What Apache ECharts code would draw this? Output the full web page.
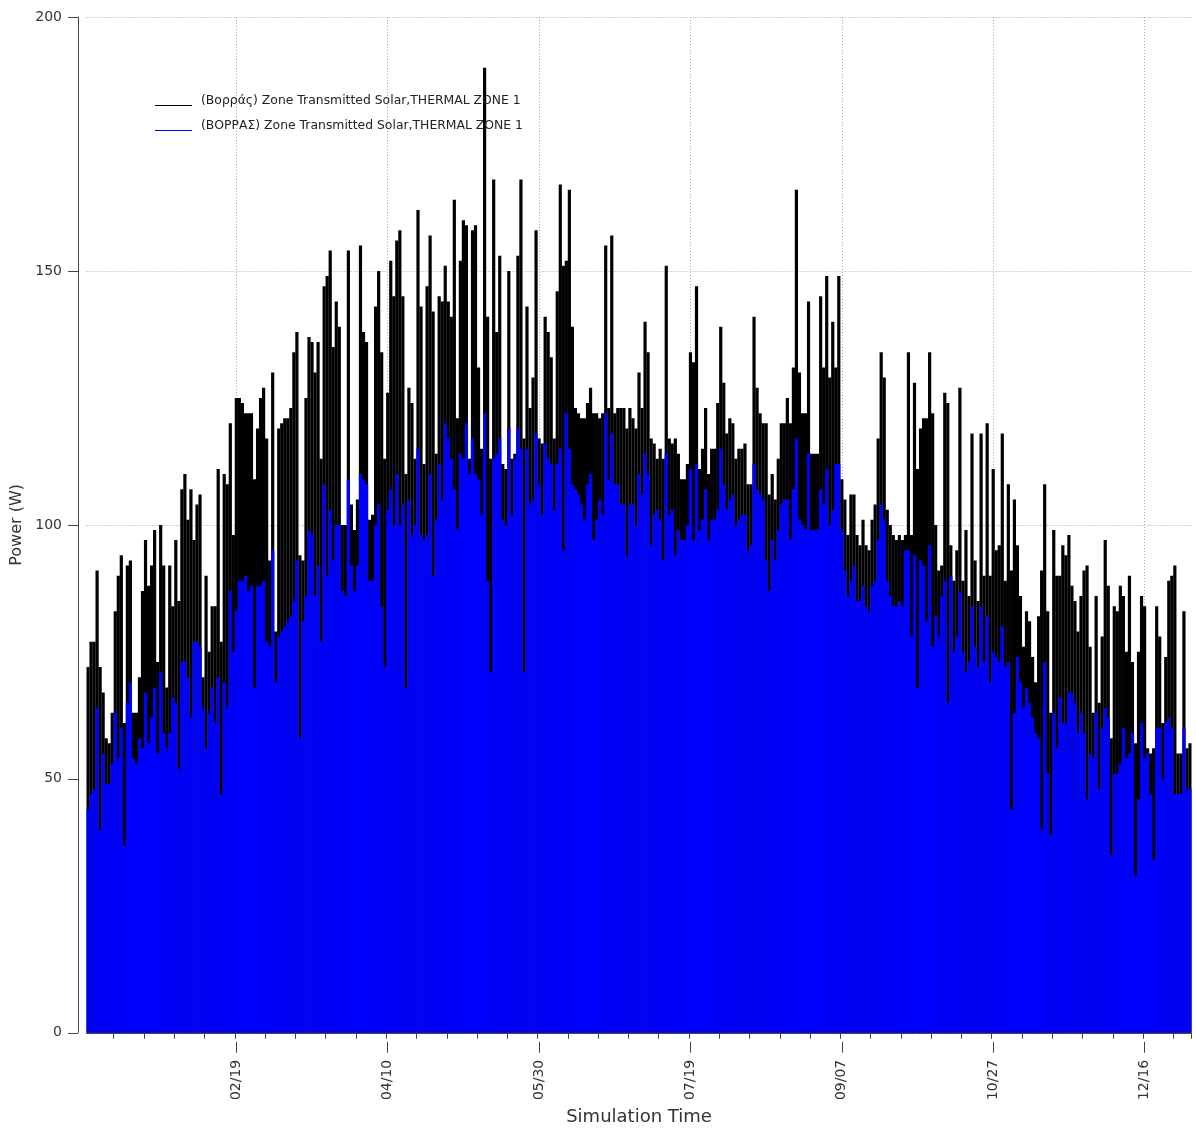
<!DOCTYPE html>
<html>
<head>
<meta charset="utf-8">
<script src="https://cdn.jsdelivr.net/npm/echarts@6/dist/echarts.min.js"></script>
<style>
html,body{margin:0;padding:0;background:#fff;overflow:hidden;width:1196px;height:1131px;}
#chart{position:absolute;left:0;top:0;width:1196px;height:1131px;}
</style>
</head>
<body>
<div id="chart"></div>
<script>
// Daily peak values (W), Jan 1 .. Dec 31
const seriesNames = [
  '(Βορράς) Zone Transmitted Solar,THERMAL ZONE 1',
  '(ΒΟΡΡΑΣ) Zone Transmitted Solar,THERMAL ZONE 1'
];
const seriesColors = ['#000000', '#0000ff'];
const vorrasValues = [
72,77,77,91,72,67,58,57,63,83,
90,94,61,92,93,63,63,70,87,97,
88,92,99,73,100,92,68,92,84,97,
85,107,110,101,107,97,104,106,70,90,
75,84,84,111,77,110,108,120,98,125,
125,124,122,122,122,109,119,125,127,117,
93,130,79,119,120,121,121,123,134,138,
94,93,125,137,136,130,136,113,147,149,
154,135,144,139,100,100,154,104,99,105,
155,138,136,101,102,143,150,134,113,126,
152,145,156,158,145,110,127,124,113,162,
143,112,147,157,142,114,145,144,151,144,
141,164,121,152,160,159,113,158,159,131,
115,190,141,113,168,138,153,112,111,150,
113,114,153,168,117,143,123,129,158,117,
116,141,138,133,117,146,167,151,152,166,
139,123,122,121,121,124,127,122,122,121,
122,155,123,157,122,123,123,123,119,123,
121,119,130,123,140,134,117,116,113,115,
113,151,117,116,117,114,109,109,112,134,
132,147,111,115,123,110,115,115,124,139,
128,118,121,120,113,115,115,116,108,108,
141,127,122,120,120,106,110,105,113,120,
120,125,120,131,166,130,122,122,144,114,
114,114,145,131,149,129,140,131,149,109,
105,98,106,106,98,96,101,96,95,101,
104,117,134,129,103,100,98,97,98,97,
98,134,98,128,111,119,121,121,134,122,
100,91,92,126,124,96,89,95,127,89,
99,86,118,93,85,118,90,120,90,111,
95,96,118,89,108,91,105,96,86,76,
83,81,74,69,82,91,108,83,63,99,
90,90,96,94,98,88,85,79,86,91,
92,76,63,86,65,78,97,88,58,84,
83,88,86,75,90,73,57,75,86,84,
56,55,56,84,78,61,74,89,90,92,
55,55,83,56,57
];
const VORRASValues = [
44,47,48,64,40,55,49,49,53,63,
54,60,37,65,69,54,53,58,56,67,
57,62,68,55,71,59,56,59,66,65,
52,73,73,70,62,77,77,76,64,56,
63,68,61,70,47,69,64,87,75,83,
89,89,90,87,88,68,88,88,89,77,
76,95,69,78,79,80,81,82,85,93,
58,81,86,99,98,86,92,77,108,90,
103,93,100,100,87,86,109,92,87,92,
110,109,108,89,89,100,104,84,72,103,
107,100,110,100,104,68,105,98,100,115,
98,97,98,110,90,101,112,105,120,117,
113,107,99,114,113,120,110,117,110,109,
102,122,89,71,113,114,117,101,100,119,
102,113,119,115,71,115,104,105,118,108,
102,116,113,112,103,112,115,95,122,115,
108,107,106,104,101,108,110,97,101,105,
102,122,109,118,108,108,104,104,94,104,
104,100,110,106,114,110,96,102,103,101,
93,114,102,103,94,99,97,97,100,111,
97,112,99,101,107,97,101,101,103,115,
108,103,105,106,100,101,102,102,95,96,
112,107,106,105,93,87,97,93,99,104,
105,105,97,107,117,101,100,99,114,99,
99,99,107,104,111,100,103,112,112,99,
91,86,89,92,85,85,88,84,83,88,
89,97,104,101,89,86,84,84,85,84,
95,95,78,94,68,93,92,81,96,76,
82,78,86,89,65,90,75,78,87,75,
71,73,84,76,72,84,73,82,69,75,
74,73,80,72,73,44,63,74,69,64,
68,65,62,59,58,40,73,51,39,63,
56,66,61,61,67,67,65,59,63,59,
46,55,54,63,48,60,64,62,35,51,
51,53,60,54,55,59,31,46,61,54,
55,47,34,60,60,50,61,62,60,47,
47,47,60,48,48
];
const tickLabels = ['02/19','04/10','05/30','07/19','09/07','10/27','12/16'];
const yTicks = [0, 50, 100, 150, 200];

// Day categories (MM/DD) for a non-leap year
function pad(n){ return (n < 10 ? '0' : '') + n; }
const categories = [];
for (let i = 0; i < vorrasValues.length; i++) {
  const d = new Date(Date.UTC(2013, 0, 1 + i));
  categories.push(pad(d.getUTCMonth() + 1) + '/' + pad(d.getUTCDate()));
}

const FONT = 'DejaVu Sans';
const chart = echarts.init(document.getElementById('chart'), null, {renderer: 'canvas', width: 1196, height: 1131});
const isMajor = (i, v) => tickLabels.indexOf(v) >= 0;
// legend icon: thin line drawn at the bottom of a 37x10 box
const legendIcon = 'path://M0,0L0.01,0L0.01,0.01L0,0.01Z M0,9L37,9L37,10L0,10Z';

chart.setOption({
  animation: false,
  backgroundColor: '#ffffff',
  textStyle: {fontFamily: FONT},
  grid: {left: 86.5, right: 4.5, top: 17, bottom: 90, containLabel: false},
  legend: {
    orient: 'vertical',
    left: 155,
    top: 95,
    padding: 0,
    itemWidth: 37,
    itemHeight: 10,
    itemGap: 13,
    icon: legendIcon,
    selectedMode: false,
    data: seriesNames.map((n, k) => ({name: n, itemStyle: {color: seriesColors[k], borderWidth: 0}})),
    textStyle: {fontFamily: FONT, fontSize: 12.4, color: '#222', padding: [0, 0, 0, 4]}
  },
  xAxis: [
    {
      type: 'category',
      data: categories,
      position: 'bottom',
      offset: 9,
      boundaryGap: true,
      axisLine: {show: true, lineStyle: {color: '#444', width: 1}},
      axisTick: {show: true, interval: (i) => i % 10 === 9, length: 6, lineStyle: {color: '#444'}},
      axisLabel: {show: false},
      splitLine: {show: false}
    },
    {
      type: 'category',
      data: categories,
      position: 'bottom',
      offset: 9,
      boundaryGap: true,
      axisLine: {show: false},
      axisTick: {show: true, alignWithLabel: true, interval: isMajor, length: 11, lineStyle: {color: '#444'}},
      axisLabel: {show: true, interval: isMajor, rotate: 90, margin: 18, fontSize: 14, color: '#333', fontFamily: FONT},
      splitLine: {show: true, alignWithLabel: true, interval: isMajor, lineStyle: {type: [1, 2], color: '#a8a8a8', width: 1}},
      name: 'Simulation Time',
      nameLocation: 'middle',
      nameGap: 64,
      nameTextStyle: {fontSize: 18, color: '#333', fontFamily: FONT}
    }
  ],
  yAxis: {
    type: 'value',
    min: yTicks[0],
    max: yTicks[yTicks.length - 1],
    interval: 50,
    offset: 8.5,
    axisLine: {show: true, lineStyle: {color: '#444', width: 1}},
    axisTick: {show: true, length: 10, lineStyle: {color: '#444'}},
    axisLabel: {margin: 16, fontSize: 14, color: '#333', fontFamily: FONT},
    splitLine: {show: true, lineStyle: {type: [1, 2], color: '#a8a8a8', width: 1}},
    name: 'Power (W)',
    nameLocation: 'middle',
    nameGap: 51,
    nameTextStyle: {fontSize: 16, color: '#333', fontFamily: FONT}
  },
  series: [
    {
      name: seriesNames[0],
      type: 'bar',
      xAxisIndex: 0,
      data: vorrasValues,
      barWidth: 3.2,
      barGap: '-100%',
      itemStyle: {color: seriesColors[0]},
      silent: true
    },
    {
      name: seriesNames[1],
      type: 'bar',
      xAxisIndex: 0,
      data: VORRASValues,
      barWidth: 3.2,
      barGap: '-100%',
      itemStyle: {color: seriesColors[1]},
      silent: true
    }
  ]
});
</script>
</body>
</html>
